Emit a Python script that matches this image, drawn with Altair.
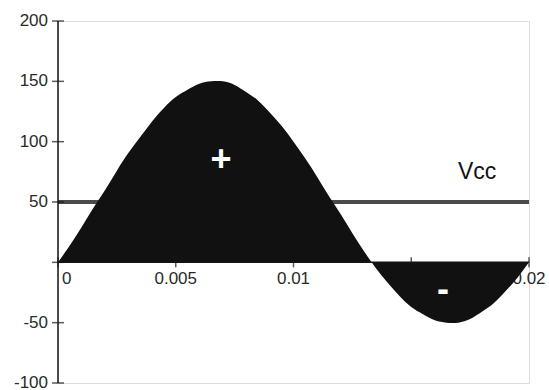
import altair as alt
import pandas as pd

# One 20 ms period of the supply voltage, sampled every 0.5 ms
time_s = [0.0, 0.0005, 0.001, 0.0015, 0.002, 0.0025, 0.003, 0.0035, 0.004, 0.0045,
          0.005, 0.0055, 0.006, 0.0065, 0.007, 0.0075, 0.008, 0.0085, 0.009, 0.0095,
          0.01, 0.0105, 0.011, 0.0115, 0.012, 0.0125, 0.013, 0.0135, 0.014, 0.0145,
          0.015, 0.0155, 0.016, 0.0165, 0.017, 0.0175, 0.018, 0.0185, 0.019, 0.0195,
          0.02]
voltage = [0, 14, 29, 45, 60, 76, 91, 104, 117, 128,
           137, 143, 148, 150, 150, 147, 141, 134, 124, 113,
           100, 86, 71, 55, 40, 24, 9, -5, -17, -28,
           -37, -43, -48, -50, -50, -47, -41, -34, -24, -13,
           0]

vcc_level = 50
x_ticks = [0.0, 0.005, 0.01, 0.015, 0.02]
x_label_pos = [0.005, 0.01, 0.02]
x_label_text = ["0.005", "0.01", "0.02"]
origin_label = "0"
y_ticks = [-100, -50, 0, 50, 100, 150, 200]
y_label_pos = [-100, -50, 50, 100, 150, 200]
y_label_text = ["-100", "-50", "50", "100", "150", "200"]

W, H = 471, 362
x_scale = alt.Scale(domain=[0, 0.02], nice=False, zero=False)
y_scale = alt.Scale(domain=[-100, 200], nice=False)
FONT = "Liberation Sans"
INK = "#141414"
LABEL_INK = "#2a2a2a"
LABEL_SIZE = 17

wave = pd.DataFrame({"t": time_s, "v": voltage})
xt = pd.DataFrame({"t": x_ticks})
xl = pd.DataFrame({"t": x_label_pos, "txt": x_label_text})
yt = pd.DataFrame({"v": y_ticks})
yl = pd.DataFrame({"v": y_label_pos, "txt": y_label_text})

vcc_line = alt.Chart(pd.DataFrame({"a": [0.0], "b": [0.02], "v": [vcc_level]})).mark_rule(
    color="#4a4a4a", strokeWidth=4
).encode(
    x=alt.X("a:Q", scale=x_scale, axis=None),
    x2="b:Q",
    y=alt.Y("v:Q", scale=y_scale, axis=None),
)

x_labels = alt.Chart(xl).mark_text(
    font=FONT, fontSize=LABEL_SIZE, color=LABEL_INK, baseline="top", align="center", dy=9
).encode(
    x=alt.X("t:Q", scale=x_scale),
    y=alt.datum(0, scale=y_scale),
    text="txt:N",
)

x_origin_label = alt.Chart(pd.DataFrame({"s": [origin_label]})).mark_text(
    font=FONT, fontSize=LABEL_SIZE, color=LABEL_INK, baseline="top", align="left", dy=9, dx=4
).encode(
    x=alt.datum(0, scale=x_scale),
    y=alt.datum(0, scale=y_scale),
    text="s:N",
)

area = alt.Chart(wave).mark_area(color="#111111", interpolate="natural").encode(
    x=alt.X("t:Q", scale=x_scale),
    y=alt.Y("v:Q", scale=y_scale),
    y2=alt.datum(0),
)

x_axis = alt.Chart(pd.DataFrame({"a": [0.0], "b": [0.02]})).mark_rule(
    color=INK, strokeWidth=1.5
).encode(
    x=alt.X("a:Q", scale=x_scale),
    x2="b:Q",
    y=alt.datum(0, scale=y_scale),
)

y_axis = alt.Chart(pd.DataFrame({"lo": [-100], "hi": [200]})).mark_rule(
    color=INK, strokeWidth=1.5
).encode(
    x=alt.datum(0, scale=x_scale),
    y=alt.Y("lo:Q", scale=y_scale),
    y2="hi:Q",
)

x_tick_marks = alt.Chart(xt).mark_tick(
    orient="vertical", size=10, thickness=1.5, color=INK
).encode(
    x=alt.X("t:Q", scale=x_scale),
    y=alt.datum(0, scale=y_scale),
)

y_tick_marks = alt.Chart(yt).mark_tick(
    orient="horizontal", size=12, thickness=1.5, color=INK
).encode(
    x=alt.datum(0, scale=x_scale),
    y=alt.Y("v:Q", scale=y_scale),
)

y_labels = alt.Chart(yl).mark_text(
    font=FONT, fontSize=LABEL_SIZE, color=LABEL_INK, align="right", baseline="middle", dx=-10
).encode(
    x=alt.datum(0, scale=x_scale),
    y=alt.Y("v:Q", scale=y_scale),
    text="txt:N",
)

vcc_text = alt.Chart(pd.DataFrame({"s": ["Vcc"]})).mark_text(
    font=FONT, fontSize=23, color="#111111", align="center", baseline="alphabetic"
).encode(
    x=alt.datum(0.0178, scale=x_scale),
    y=alt.datum(69, scale=y_scale),
    text="s:N",
)

plus_text = alt.Chart(pd.DataFrame({"s": ["+"]})).mark_text(
    font=FONT, fontSize=36, fontWeight="bold", color="white", align="center", baseline="middle"
).encode(
    x=alt.datum(0.00692, scale=x_scale),
    y=alt.datum(85, scale=y_scale),
    text="s:N",
)

minus_text = alt.Chart(pd.DataFrame({"s": ["-"]})).mark_text(
    font=FONT, fontSize=36, fontWeight="bold", color="white", align="center", baseline="middle"
).encode(
    x=alt.datum(0.01635, scale=x_scale),
    y=alt.datum(-23, scale=y_scale),
    text="s:N",
)

chart = alt.layer(
    vcc_line, x_labels, x_origin_label, area, x_axis, y_axis, x_tick_marks, y_tick_marks,
    y_labels, vcc_text, plus_text, minus_text,
).properties(
    width=W, height=H,
    autosize=alt.AutoSizeParams(type="none"),
    padding={"left": 58, "top": 21, "right": 20, "bottom": 7},
).configure_view(stroke=None).configure(background="white")

chart.save("out.html", embed_options={"renderer": "svg", "actions": False})
